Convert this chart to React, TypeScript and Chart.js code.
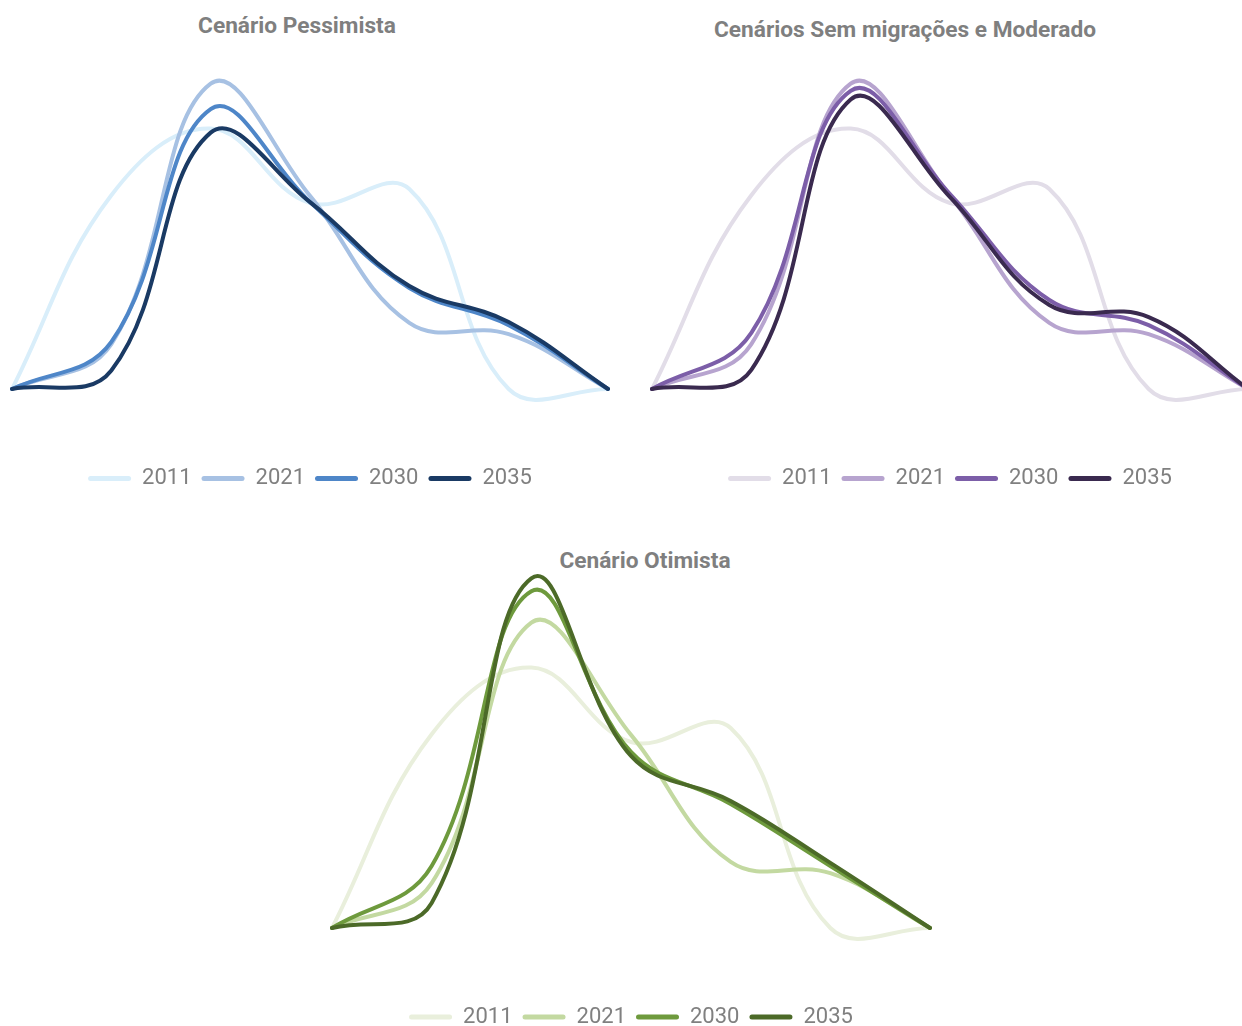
import React, { useEffect, useRef } from 'react';
import { Chart, registerables } from 'chart.js';

Chart.register(...registerables);

// ---- data (relative values) ----
const categories = ['1', '2', '3', '4', '5', '6', '7'];
const years = ['2011', '2021', '2030', '2035'];

const values2011 = [0, 6.25, 8.4, 6.0, 6.45, 0, 0];
const values2021 = [0, 1.45, 9.85, 6.23, 2.13, 1.77, 0];

const pessimista2030 = [0, 1.52, 9.03, 6.03, 3.26, 2.06, 0];
const pessimista2035 = [0, 0.6, 8.27, 6.03, 3.32, 2.16, 0];

const moderado2030 = [0, 1.81, 9.62, 6.29, 2.87, 2.06, 0];
const moderado2035 = [0, 0.62, 9.34, 6.19, 2.71, 2.32, 0];

const otimista2030 = [0, 2.0, 10.86, 5.68, 4.0, 2.0, 0];
const otimista2035 = [0, 0.81, 11.28, 5.55, 4.1, 2.1, 0];

const blues = ['#d9eefa', '#a7c1e3', '#4e86c8', '#1a3a64'];
const purples = ['#e2dde8', '#b7a4cf', '#7c5ea8', '#3a2a4f'];
const greens = ['#e9efdc', '#c3d9a1', '#6e9a3d', '#4c6a28'];

const PX_PER_UNIT = 31;

Chart.defaults.font.family = 'Roboto';

type PanelProps = {
  series: number[][];
  colors: string[];
  left: number;
  top: number;
  width: number;
  height: number;
  baseline: number; // page y of value 0
  padBottom: number;
};

function Panel({ series, colors, left, top, width, height, baseline, padBottom }: PanelProps) {
  const ref = useRef<HTMLCanvasElement | null>(null);
  useEffect(() => {
    if (!ref.current) return;
    const chart = new Chart(ref.current, {
      type: 'line',
      data: {
        labels: categories,
        datasets: years.map((y, i) => ({
          label: y,
          data: series[i],
          borderColor: colors[i],
          backgroundColor: colors[i],
          borderWidth: 4,
          pointRadius: 0,
          pointHoverRadius: 0,
          tension: 0.4,
          fill: false,
          order: 3 - i,
          borderCapStyle: 'round',
          borderJoinStyle: 'round',
        })),
      },
      options: {
        responsive: false,
        animation: false,
        layout: { padding: { left: 12, right: 12, top: 20, bottom: padBottom } },
        scales: {
          x: { display: false },
          y: { display: false, min: -2, max: 11 },
        },
        plugins: {
          tooltip: { enabled: false },
          title: { display: false },
          legend: {
            position: 'bottom',
            labels: {
              boxWidth: 43,
              boxHeight: 5,
              padding: 10,
              color: '#808080',
              font: { size: 22, family: 'Roboto' },
              useBorderRadius: true,
              borderRadius: 2.5,
              sort: (a: any, b: any) => a.datasetIndex - b.datasetIndex,
              generateLabels: (c: any) =>
                Chart.defaults.plugins.legend.labels
                  .generateLabels(c)
                  .map((l: any) => ({ ...l, lineWidth: 0, fillStyle: l.strokeStyle })),
            },
          },
        },
      } as any,
    });
    const area = chart.chartArea;
    const base = baseline - top;
    (chart.options.scales as any).y.max = (base - area.top) / PX_PER_UNIT;
    (chart.options.scales as any).y.min = -(area.bottom - base) / PX_PER_UNIT;
    chart.update('none');
    return () => chart.destroy();
  }, []);
  return (
    <canvas
      ref={ref}
      width={width}
      height={height}
      style={{ position: 'absolute', left, top, width, height, display: 'block' }}
    />
  );
}

function Title({ text, cx, cy }: { text: string; cx: number; cy: number }) {
  return (
    <div
      style={{
        position: 'absolute',
        left: cx - 250,
        width: 500,
        top: cy - 13,
        height: 26,
        lineHeight: '26px',
        textAlign: 'center',
        fontFamily: 'Roboto',
        fontWeight: 700,
        fontSize: 22.7,
        color: '#7f7f7f',
      }}
    >
      {text}
    </div>
  );
}

export default function App() {
  return (
    <div
      style={{
        position: 'absolute',
        left: 0,
        top: 0,
        width: 1242,
        height: 1026,
        overflow: 'hidden',
        background: '#ffffff',
      }}
    >
      <Title text="Cenário Pessimista" cx={297} cy={26} />
      <Title text="Cenários Sem migrações e Moderado" cx={905} cy={30} />
      <Title text="Cenário Otimista" cx={645} cy={561} />
      <Panel
        series={[values2011, values2021, pessimista2030, pessimista2035]}
        colors={blues}
        left={0}
        top={40}
        width={620}
        height={470}
        baseline={389}
        padBottom={10.5}
      />
      <Panel
        series={[values2011, values2021, moderado2030, moderado2035]}
        colors={purples}
        left={640}
        top={40}
        width={620}
        height={470}
        baseline={389}
        padBottom={10.5}
      />
      <Panel
        series={[values2011, values2021, otimista2030, otimista2035]}
        colors={greens}
        left={320}
        top={530}
        width={622}
        height={510}
        baseline={928}
        padBottom={2}
      />
    </div>
  );
}
